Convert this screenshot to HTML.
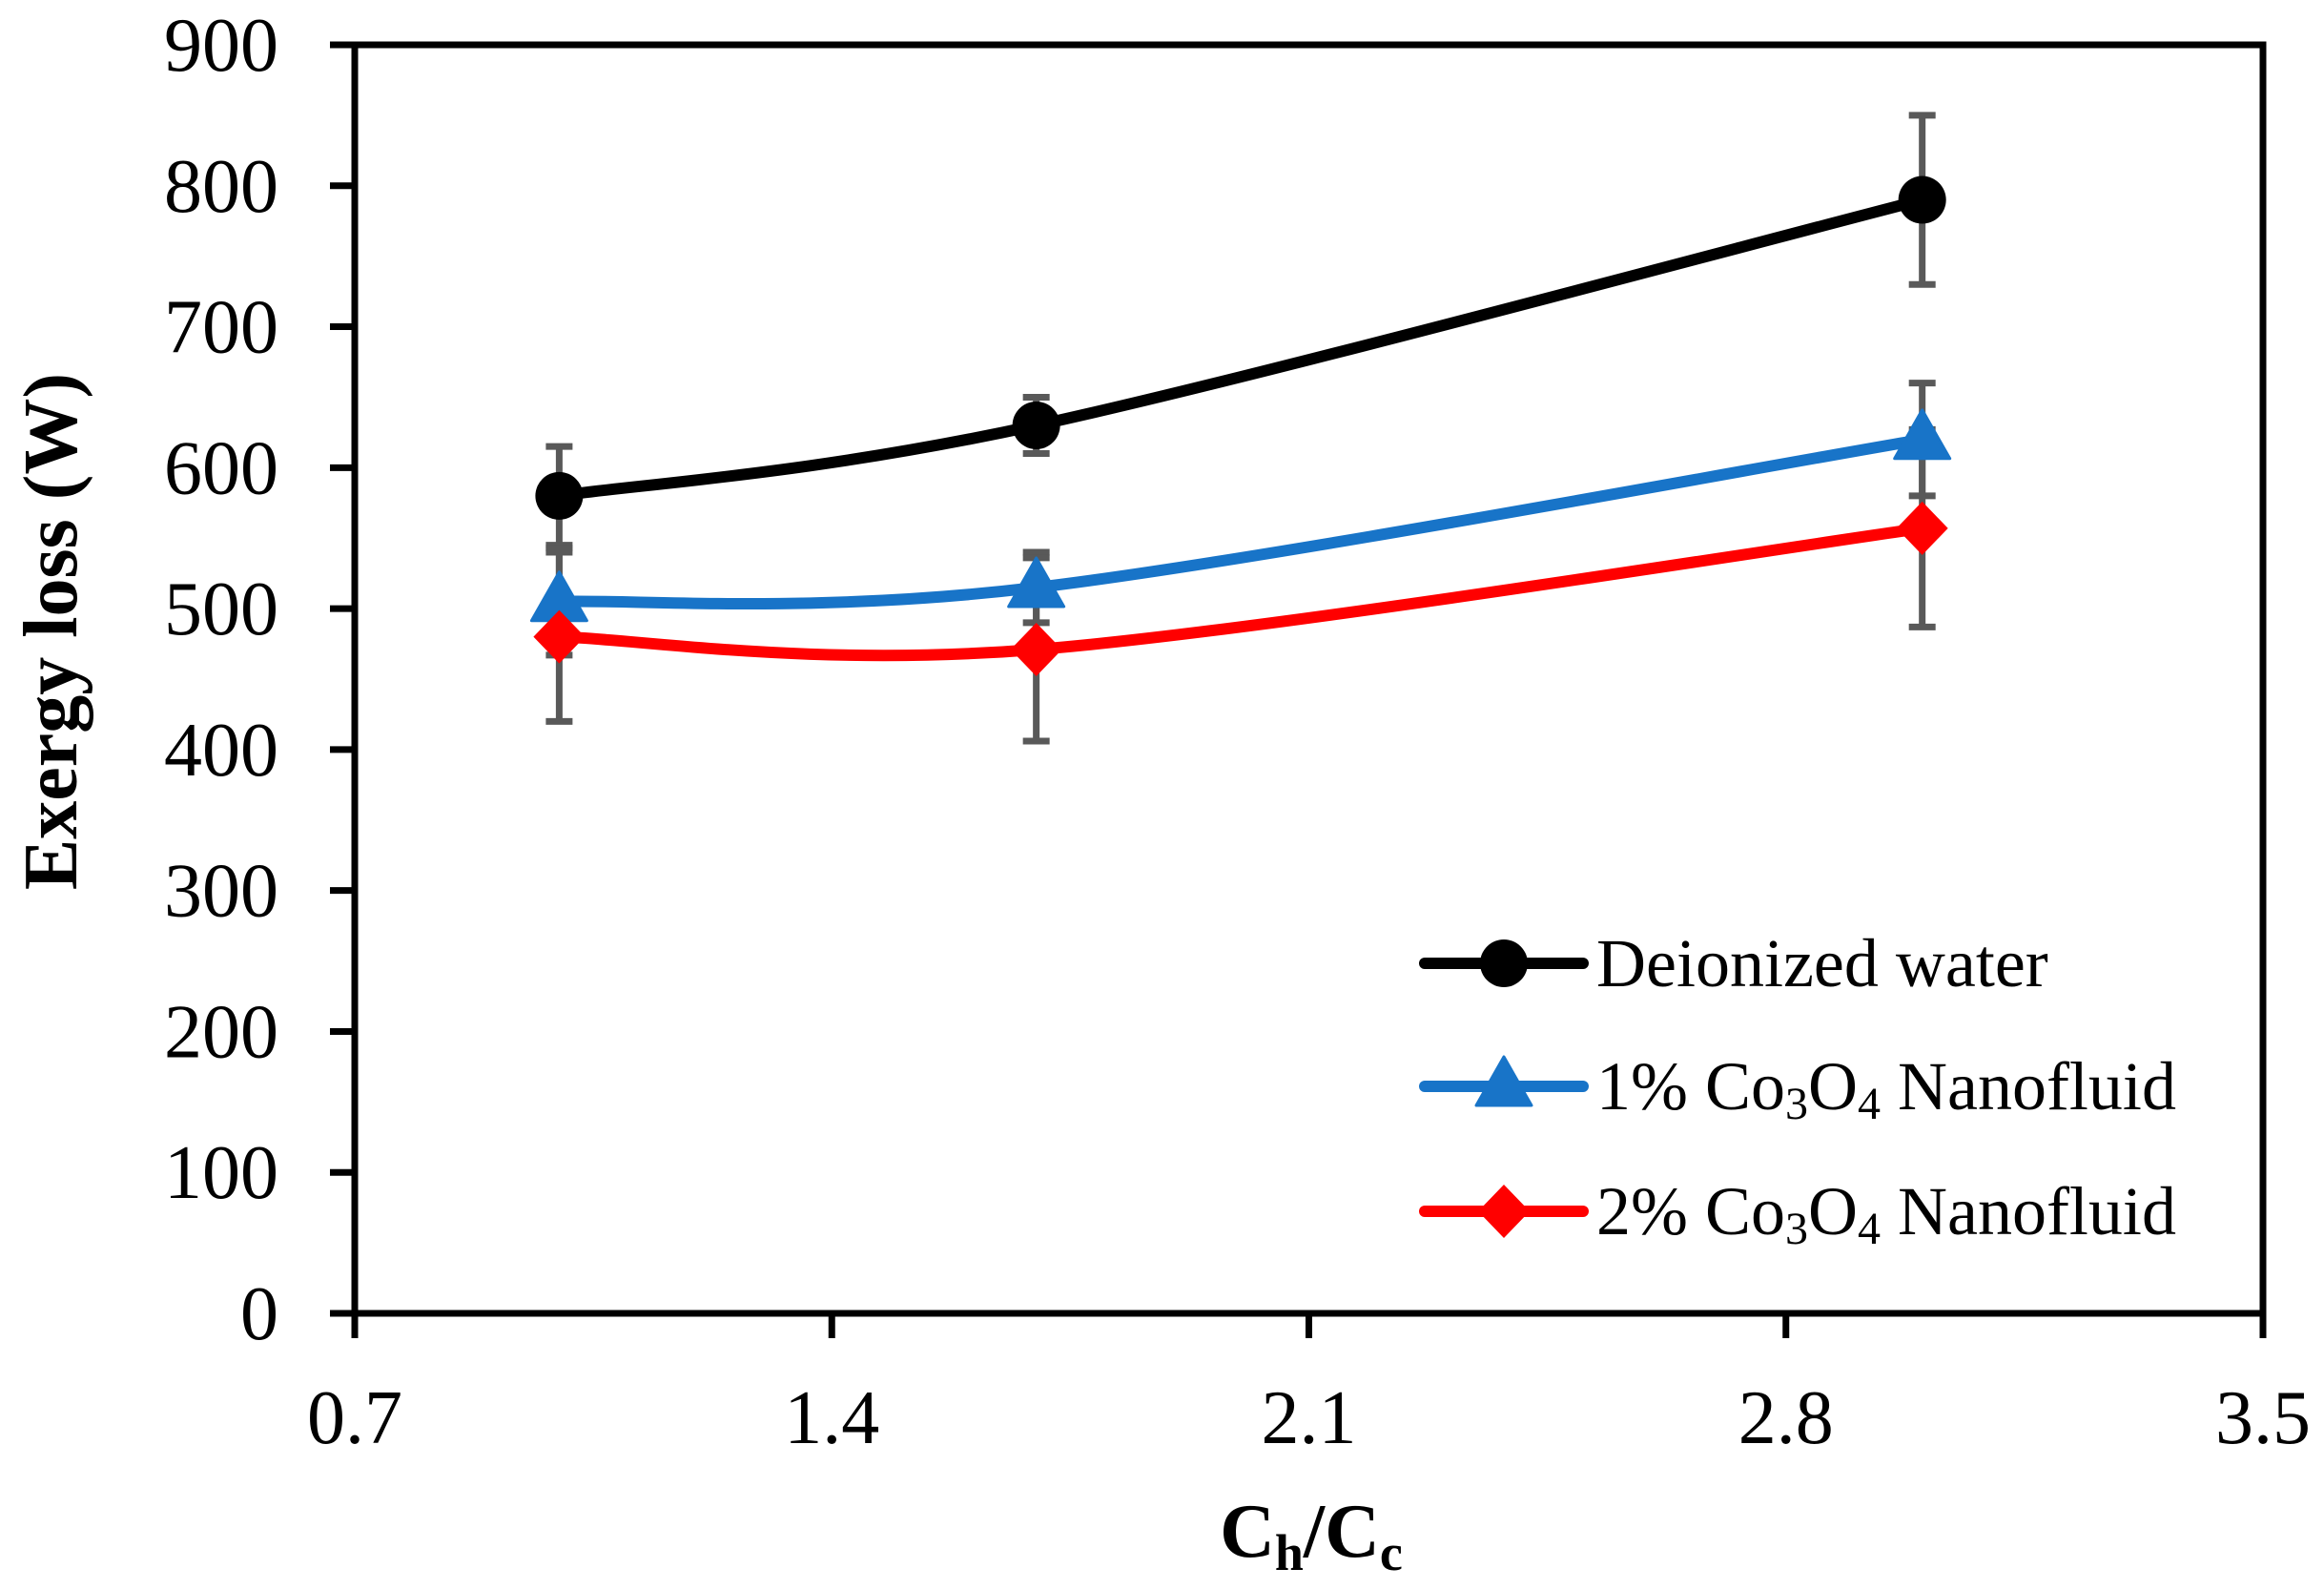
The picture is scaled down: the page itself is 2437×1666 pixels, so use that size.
<!DOCTYPE html>
<html><head><meta charset="utf-8"><style>
html,body{margin:0;padding:0;background:#fff;}
svg{display:block;font-family:"Liberation Serif",serif;}
</style></head><body>
<svg id="chart" width="2437" height="1666" viewBox="0 0 2437 1666" xmlns="http://www.w3.org/2000/svg">
<rect width="2437" height="1666" fill="#fff"/>
<g id="grid"></g>
<g id="series"></g>
<g id="axes"></g>
<g id="legend"></g>
</svg>
<script>
const xTicks = [0.7, 1.4, 2.1, 2.8, 3.5];
const xTickLabels = ["0.7", "1.4", "2.1", "2.8", "3.5"];
const yTicks = [0, 100, 200, 300, 400, 500, 600, 700, 800, 900];
const yTickLabels = ["0", "100", "200", "300", "400", "500", "600", "700", "800", "900"];
const xValues = [1.0, 1.7, 3.0];
const waterValues = [580, 630, 790];
const waterErrors = [35, 20, 60];
const co1Values = [505, 515, 620];
const co1Errors = [38, 25, 40];
const co2Values = [480, 471, 557];
const co2Errors = [60, 65, 70];
const seriesNames = ["Deionized water", "1% Co3O4 Nanofluid", "2% Co3O4 Nanofluid"];

const NS = "http://www.w3.org/2000/svg";
const L = 372, R = 2373, T = 47, B = 1377;
const xMin = 0.7, xMax = 3.5, yMin = 0, yMax = 900;
function sx(v){ return L + (v - xMin) / (xMax - xMin) * (R - L); }
function sy(v){ return B - (v - yMin) / (yMax - yMin) * (B - T); }
function mk(tag, attrs, parent){
  const e = document.createElementNS(NS, tag);
  for (const k in attrs) e.setAttribute(k, attrs[k]);
  parent.appendChild(e);
  return e;
}
const axes = document.getElementById('axes');
const series = document.getElementById('series');
const legend = document.getElementById('legend');

const frame = mk('rect', {x:L, y:T, width:R-L, height:B-T, fill:'none', stroke:'#000', 'stroke-width':7}, axes);



yTicks.forEach((v, i) => {
  const t = mk('line', {x1:L-26, x2:L, y1:sy(v), y2:sy(v), stroke:'#000', 'stroke-width':7}, axes);
  
  
  const lb = mk('text', {x:292, y:sy(v)+27, 'text-anchor':'end', 'font-size':80, fill:'#000'}, axes);
  lb.textContent = yTickLabels[i];
  
  
});
xTicks.forEach((v, i) => {
  const t = mk('line', {x1:sx(v), x2:sx(v), y1:B, y2:B+26, stroke:'#000', 'stroke-width':7}, axes);
  
  
  const lb = mk('text', {x:sx(v), y:1513, 'text-anchor':'middle', 'font-size':80, fill:'#000'}, axes);
  lb.textContent = xTickLabels[i];
  
  
});

const yt = mk('text', {x:0, y:0, transform:'translate(80,662) rotate(-90)', 'text-anchor':'middle', 'font-size':80, 'font-weight':'bold', fill:'#000'}, axes);
yt.textContent = 'Exergy loss (W)';


const xt = mk('text', {x:1375, y:1632, 'text-anchor':'middle', 'font-size':80, 'font-weight':'bold', fill:'#000'}, axes);
xt.innerHTML = 'C<tspan font-size="54" dy="14">h</tspan><tspan dy="-14">/C</tspan><tspan font-size="54" dy="14">c</tspan>';



function smoothPath(xs, ys){
  const p = xs.map((x,i)=>[sx(x), sy(ys[i])]);
  let d = `M${p[0][0]},${p[0][1]}`;
  const k = 1/6;
  for (let i=0;i<p.length-1;i++){
    const p0 = p[i-1] || p[i], p1 = p[i], p2 = p[i+1], p3 = p[i+2] || p[i+1];
    const c1 = [p1[0] + (p2[0]-p0[0])*k, p1[1] + (p2[1]-p0[1])*k];
    const c2 = [p2[0] - (p3[0]-p1[0])*k, p2[1] - (p3[1]-p1[1])*k];
    d += ` C${c1[0]},${c1[1]} ${c2[0]},${c2[1]} ${p2[0]},${p2[1]}`;
  }
  return d;
}
function marker(type, cx, cy, color, parent){
  let m;
  if (type === 'circle') m = mk('circle', {cx:cx, cy:cy, r:25, fill:color}, parent);
  else if (type === 'triangle') m = mk('polygon', {points:`${cx},${cy-31} ${cx+29},${cy+20} ${cx-29},${cy+20}`, fill:color, stroke:color, 'stroke-width':3, 'stroke-linejoin':'round'}, parent);
  else m = mk('polygon', {points:`${cx},${cy-28} ${cx+27},${cy} ${cx},${cy+28} ${cx-27},${cy}`, fill:color}, parent);
  return m;
}
const defs = [
  {vals: waterValues, errs: waterErrors, color:'#000000', m:'circle', name:'deionized-water'},
  {vals: co1Values, errs: co1Errors, color:'#1874c8', m:'triangle', name:'co3o4-1pct'},
  {vals: co2Values, errs: co2Errors, color:'#ff0000', m:'diamond', name:'co3o4-2pct'}
];
defs.forEach(s => {
  s.vals.forEach((v, i) => {
    const g = mk('g', {}, series);
    
    
    const x = sx(xValues[i]);
    mk('line', {x1:x, x2:x, y1:sy(v+s.errs[i]), y2:sy(v-s.errs[i]), stroke:'#595959', 'stroke-width':7}, g);
    mk('line', {x1:x-14, x2:x+14, y1:sy(v+s.errs[i]), y2:sy(v+s.errs[i]), stroke:'#595959', 'stroke-width':7}, g);
    mk('line', {x1:x-14, x2:x+14, y1:sy(v-s.errs[i]), y2:sy(v-s.errs[i]), stroke:'#595959', 'stroke-width':7}, g);
  });
});
defs.forEach(s => {
  const path = mk('path', {d:smoothPath(xValues, s.vals), fill:'none', stroke:s.color, 'stroke-width':12, 'stroke-linecap':'round'}, series);
  
  
  s.vals.forEach((v, i) => {
    const m = marker(s.m, sx(xValues[i]), sy(v), s.color, series);
    
    
  });
});

const legendY = [1010, 1139, 1270];
defs.forEach((s, i) => {
  const g = mk('g', {}, legend);
  
  
  const y = legendY[i];
  mk('line', {x1:1494, x2:1660, y1:y, y2:y, stroke:s.color, 'stroke-width':12, 'stroke-linecap':'round'}, g);
  marker(s.m, 1577, y, s.color, g);
  const t = mk('text', {x:1674, y:y+24, 'font-size':72, fill:'#000'}, g);
  if (i === 0) t.textContent = seriesNames[0];
  else t.innerHTML = (i===1?'1%':'2%') + ' Co<tspan font-size="48" dy="10">3</tspan><tspan dy="-10">O</tspan><tspan font-size="48" dy="10">4</tspan><tspan dy="-10"> Nanofluid</tspan>';
});
</script>
</body></html>
